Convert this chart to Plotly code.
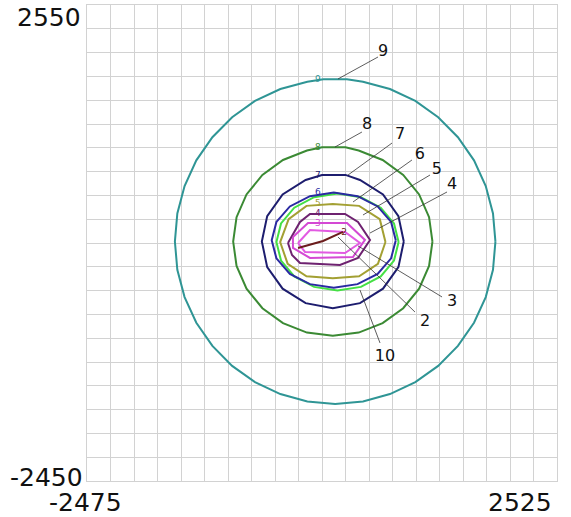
import plotly.graph_objects as go

# Contour rings (data units), one closed polygon per level
ring9_x = [1870, 1844, 1767, 1642, 1471, 1261, 1018, 748, 461, 290, 40, -131, -418, -688, -931, -1141,
           -1312, -1437, -1514, -1540, -1514, -1437, -1312, -1141, -931, -688, -418, -131, 165, 461,
           748, 1018, 1261, 1471, 1642, 1767, 1844]
ring9_y = [65, 361, 648, 918, 1161, 1371, 1542, 1667, 1744, 1770, 1770, 1744, 1667, 1542, 1371, 1161,
           918, 648, 361, 65, -231, -518, -788, -1031, -1241, -1412, -1537, -1614, -1640, -1614,
           -1537, -1412, -1241, -1031, -788, -518, -231]

ring8_x = [1200, 1164, 1058, 889, 670, 415, 275, 25, -135, -390, -609, -778, -884, -920, -884, -778,
           -609, -390, -135, 140, 415, 670, 889, 1058, 1164]
ring8_y = [65, 321, 560, 765, 922, 1021, 1055, 1055, 1021, 922, 765, 560, 321, 65, -191, -430,
           -635, -792, -891, -925, -891, -792, -635, -430, -191]

ring7_x = [895, 838, 674, 429, 275, 25, -149, -394, -558, -615, -558, -394, -149, 140, 429, 674, 838]
ring7_y = [65, 333, 560, 712, 765, 765, 712, 560, 333, 65, -203, -430, -582, -635, -582, -430, -203]

ring6_x = [810, 760, 617, 403, 150, -103, -317, -460, -510, -460, -317, -103, 150, 403, 617, 760]
ring6_y = [80, 271, 434, 542, 580, 542, 434, 271, 80, -111, -274, -382, -420, -382, -274, -111]

ring10_x = [840, 791, 650, 439, 190, -59, -270, -411, -460, -411, -270, -59, 190, 439, 650, 791]
ring10_y = [60, 255, 421, 531, 570, 531, 421, 255, 60, -135, -301, -411, -450, -411, -301, -135]

ring5_x = [700, 640, 420, 140, -140, -330, -420, -340, -140, 140, 420, 620]
ring5_y = [60, 300, 440, 460, 440, 300, 60, -170, -300, -320, -300, -170]

ring4_x = [-337, -209, -103, 270, 408, 536, 408, 216, -209, -294]
ring4_y = [50, 271, 355, 355, 271, 82, -107, -181, -160, -76]

ring3_x = [-284, -124, 291, 482, 354, -103, -284]
ring3_y = [114, 260, 260, 82, -97, -107, -2]

ring1_x = [-230, -103, 270, 429, 270, -156]
ring1_y = [50, 187, 166, 50, -55, -44]

line2_x = [-230, 36, 248]
line2_y = [-2, 71, 166]

rings = [
    ("9", ring9_x, ring9_y, "#2f9595", 2.0),
    ("8", ring8_x, ring8_y, "#3b8a34", 2.0),
    ("7", ring7_x, ring7_y, "#1d1d6e", 2.0),
    ("10", ring10_x, ring10_y, "#44e044", 2.0),
    ("6", ring6_x, ring6_y, "#2a2aa2", 2.0),
    ("5", ring5_x, ring5_y, "#a3a033", 2.0),
    ("4", ring4_x, ring4_y, "#6e2270", 2.0),
    ("3", ring3_x, ring3_y, "#d449d4", 2.0),
    ("1", ring1_x, ring1_y, "#e25ae2", 2.0),
]

# Level numbers written on the rings
inline_text = ["9", "8", "7", "6", "5", "4", "3", "2"]
inline_x = [-18, -18, -18, -18, -18, -18, -18, 259]
inline_y = [1762, 1048, 754, 575, 460, 355, 250, 155]
inline_color = ["#2f9595", "#3b8a34", "#1d1d6e", "#2a2aa2", "#a3a033", "#6e2270", "#d449d4", "#6b1c1c"]

# Callout labels with their leader lines
callout_text = ["9", "8", "7", "6", "5", "4", "3", "2", "10"]
leader_x0 = [195, 163, 302, 355, 461, 536, 408, 195, 429]
leader_y0 = [1773, 1058, 764, 481, 344, 155, 19, 113, -444]
leader_x1 = [621, 450, 770, 982, 1174, 1355, 1302, 1014, 642]
leader_y1 = [2004, 1216, 1100, 922, 764, 586, -517, -675, -1000]
callout_x = [674, 504, 855, 1067, 1248, 1408, 1408, 1121, 695]
callout_y = [2056, 1290, 1184, 974, 817, 659, -570, -780, -1147]

x_min, x_max = -2475, 2525
y_min, y_max = -2450, 2550

fig = go.Figure()

for name, xs, ys, color, w in rings:
    fig.add_trace(go.Scatter(x=xs + xs[:1], y=ys + ys[:1], mode="lines",
                             line=dict(color=color, width=w), hoverinfo="skip", name=name))

fig.add_trace(go.Scatter(x=line2_x, y=line2_y, mode="lines",
                         line=dict(color="#6b1c1c", width=2), hoverinfo="skip", name="2"))

for i in range(len(callout_text)):
    fig.add_trace(go.Scatter(x=[leader_x0[i], leader_x1[i]], y=[leader_y0[i], leader_y1[i]],
                             mode="lines", line=dict(color="#333333", width=0.8), hoverinfo="skip"))

fig.add_trace(go.Scatter(x=inline_x, y=inline_y, mode="text", text=inline_text,
                         textfont=dict(family="DejaVu Sans", size=9, color=inline_color),
                         hoverinfo="skip"))

fig.add_trace(go.Scatter(x=callout_x, y=callout_y, mode="text", text=callout_text,
                         textfont=dict(family="DejaVu Sans", size=16, color="#111111"),
                         hoverinfo="skip"))

corner_font = dict(family="DejaVu Sans", size=25, color="#111111")
fig.add_annotation(x=-0.008, y=0.973, xref="paper", yref="paper", text=str(y_max),
                   showarrow=False, xanchor="right", yanchor="middle", font=corner_font)
fig.add_annotation(x=-0.004, y=0.008, xref="paper", yref="paper", text=str(y_min),
                   showarrow=False, xanchor="right", yanchor="middle", font=corner_font)
fig.add_annotation(x=-0.004, y=-0.046, xref="paper", yref="paper", text=str(x_min),
                   showarrow=False, xanchor="center", yanchor="middle", font=corner_font)
fig.add_annotation(x=0.921, y=-0.046, xref="paper", yref="paper", text=str(x_max),
                   showarrow=False, xanchor="center", yanchor="middle", font=corner_font)

axis_common = dict(showticklabels=False, ticks="", dtick=250, showgrid=True,
                   gridcolor="#d2d2d2", gridwidth=1, zeroline=False,
                   showline=True, linecolor="#d2d2d2", linewidth=1, mirror=True, fixedrange=True)
fig.update_xaxes(range=[x_min, x_max], tick0=x_min, **axis_common)
fig.update_yaxes(range=[y_min, y_max], tick0=y_min, **axis_common)

fig.update_layout(width=571, height=517, margin=dict(l=87, r=14, t=5, b=36),
                  paper_bgcolor="white", plot_bgcolor="white", showlegend=False)

fig.write_html("out.html")
